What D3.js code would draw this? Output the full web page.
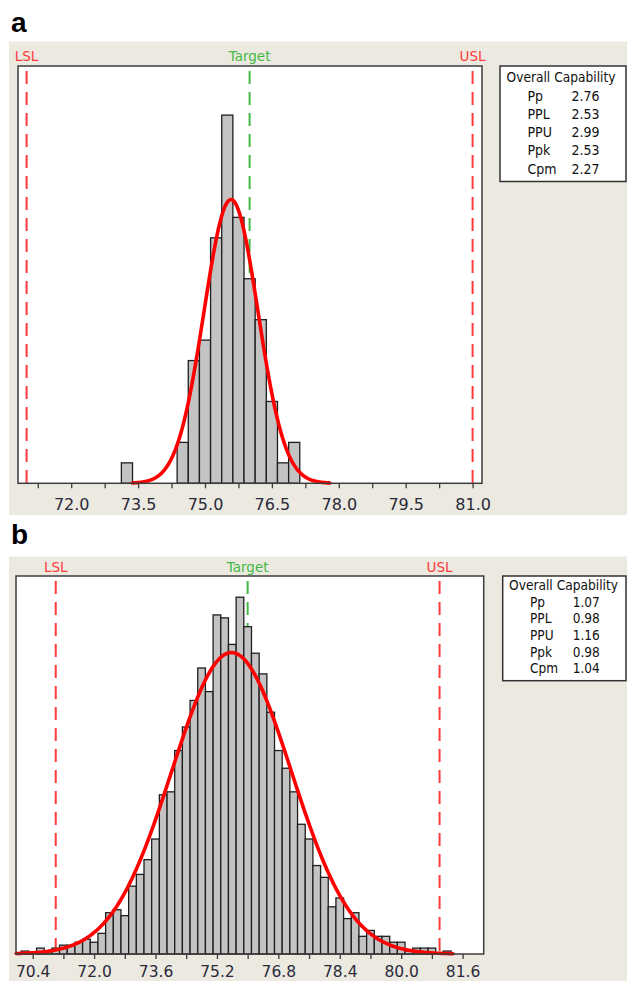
<!DOCTYPE html>
<html>
<head>
<meta charset="utf-8">
<script src="https://cdn.jsdelivr.net/npm/d3@7"></script>
<style>
  body { margin: 0; background: #fff; }
  svg { display: block; }
</style>
</head>
<body>
<svg id="chart" width="627" height="981"></svg>
<script>
// spec limits, same for both runs
const LSL = 71.0, TARGET = 76.0, USL = 81.0;
const statLabels = ['Pp', 'PPL', 'PPU', 'Ppk', 'Cpm'];

// ---- panel a ----
const binWidthA = 0.25;
const binCentersA = [73.25, 74.5, 74.75, 75.0, 75.25, 75.5, 75.75, 76.0, 76.25, 76.5, 76.75, 77.0];
const countsA = [1, 2, 6, 7, 12, 18, 13, 10, 8, 4, 1, 2];
const meanA = 75.583, sigmaA = 0.604;
const curveRangeA = [73.37, 77.8];
const statsA = ['2.76', '2.53', '2.99', '2.53', '2.27'];
const tickValuesA = [71.25, 72.0, 72.75, 73.5, 74.25, 75.0, 75.75, 76.5, 77.25, 78.0, 78.75, 79.5, 80.25, 81.0];
const tickLabelsA = ['72.0', '73.5', '75.0', '76.5', '78.0', '79.5', '81.0'];

// ---- panel b ----
const binWidthB = 0.2;
const binCentersB = [70.2, 70.4, 70.6, 70.8, 71.0, 71.2, 71.4, 71.6, 71.8, 72.0,
  72.2, 72.4, 72.6, 72.8, 73.0, 73.2, 73.4, 73.6, 73.8, 74.0,
  74.2, 74.4, 74.6, 74.8, 75.0, 75.2, 75.4, 75.6, 75.8, 76.0,
  76.2, 76.4, 76.6, 76.8, 77.0, 77.2, 77.4, 77.6, 77.8, 78.0,
  78.2, 78.4, 78.6, 78.8, 79.0, 79.2, 79.4, 79.6, 79.8, 80.0,
  80.2, 80.4, 80.6, 80.8, 81.0, 81.2];
const countsB = [1, 0, 2, 1, 2, 3, 3, 4, 5, 4,
  7, 14, 15, 13, 23, 27, 32, 39, 54, 55,
  69, 77, 86, 97, 89, 115, 114, 105, 121, 111,
  102, 95, 82, 69, 63, 55, 44, 39, 30, 26,
  16, 19, 12, 14, 6, 8, 6, 6, 4, 4,
  1, 2, 2, 2, 0, 1];
const meanB = 75.58, sigmaB = 1.5576;
const curveRangeB = [69.97, 81.35];
const statsB = ['1.07', '0.98', '1.16', '0.98', '1.04'];
const tickValuesB = [70.4, 71.2, 72.0, 72.8, 73.6, 74.4, 75.2, 76.0, 76.8, 77.6, 78.4, 79.2, 80.0, 80.8, 81.6];
const tickLabelsB = ['70.4', '72.0', '73.6', '75.2', '76.8', '78.4', '80.0', '81.6'];

const svg = d3.select('#chart');

const panels = [
  {
    letter: 'a', letterY: 31.5,
    bgTop: 41.5, bgBottom: 515,
    left: 18, right: 482, top: 66, bottom: 483.3,
    xDomain: [70.807, 81.211], yMax: 20.4,
    specLabelY: 60.5, tickPad: 10, tickFs: 16,
    centers: binCentersA, counts: countsA, binWidth: binWidthA,
    mean: meanA, sigma: sigmaA, curveRange: curveRangeA,
    ticks: tickValuesA, tickLabels: tickLabelsA, stats: statsA,
    legend: {x: 500, y: 66, w: 126, h: 115.5, titleX: 506.5, titleY: 82, rowY: 100.5, rowStep: 18.3, labelX: 527.5, valueX: 571.5, fs: 14}
  },
  {
    letter: 'b', letterY: 544,
    bgTop: 556.5, bgBottom: 981,
    left: 16, right: 483.7, top: 576, bottom: 954,
    xDomain: [69.965, 82.15], yMax: 128.2,
    specLabelY: 571.5, tickPad: 7, tickFs: 15.5,
    centers: binCentersB, counts: countsB, binWidth: binWidthB,
    mean: meanB, sigma: sigmaB, curveRange: curveRangeB,
    ticks: tickValuesB, tickLabels: tickLabelsB, stats: statsB,
    legend: {x: 502.7, y: 576, w: 123.3, h: 104.7, titleX: 509, titleY: 590, rowY: 606.5, rowStep: 16.7, labelX: 530, valueX: 572.7, fs: 13.5}
  }
];

panels.forEach(drawPanel);

function drawPanel(p) {
  const g = svg.append('g');

  // beige Minitab window background
  g.append('rect')
    .attr('x', 9).attr('y', p.bgTop)
    .attr('width', 627 - 9).attr('height', p.bgBottom - p.bgTop)
    .attr('fill', '#ece9e1');

  g.append('text')
    .attr('x', 11).attr('y', p.letterY)
    .attr('font-family', 'Liberation Sans, Arial, sans-serif')
    .attr('font-weight', 'bold').attr('font-size', 28)
    .attr('fill', '#000')
    .text(p.letter);

  const x = d3.scaleLinear().domain(p.xDomain).range([p.left, p.right]);
  const y = d3.scaleLinear().domain([0, p.yMax]).range([p.bottom, p.top]);

  // plot area
  g.append('rect')
    .attr('x', p.left).attr('y', p.top)
    .attr('width', p.right - p.left).attr('height', p.bottom - p.top)
    .attr('fill', '#fff');

  // spec lines
  const specs = [
    {v: LSL, label: 'LSL', color: '#ff3a3a'},
    {v: TARGET, label: 'Target', color: '#44b844'},
    {v: USL, label: 'USL', color: '#ff3a3a'}
  ];
  g.selectAll('.spec').data(specs).join('line')
    .attr('class', 'spec')
    .attr('x1', d => x(d.v)).attr('x2', d => x(d.v))
    .attr('y1', p.top + 5).attr('y2', p.bottom)
    .attr('stroke', d => d.color)
    .attr('stroke-width', 2)
    .attr('stroke-dasharray', '13,8');
  g.selectAll('.specLabel').data(specs).join('text')
    .attr('class', 'specLabel')
    .attr('x', d => x(d.v)).attr('y', p.specLabelY)
    .attr('text-anchor', 'middle')
    .attr('font-family', 'DejaVu Sans, Verdana, sans-serif')
    .attr('font-size', 13.5)
    .attr('fill', d => d.color)
    .text(d => d.label);

  // histogram bars
  const bins = p.centers.map((c, i) => ({c: c, n: p.counts[i]})).filter(d => d.n > 0);
  g.selectAll('.bar').data(bins).join('rect')
    .attr('class', 'bar')
    .attr('x', d => x(d.c - p.binWidth / 2))
    .attr('width', d => x(d.c + p.binWidth / 2) - x(d.c - p.binWidth / 2))
    .attr('y', d => y(d.n))
    .attr('height', d => y(0) - y(d.n))
    .attr('fill', '#c3c3c3')
    .attr('stroke', '#1e1e1e')
    .attr('stroke-width', 1.3);

  // fitted normal curve (expected counts per bin)
  const total = d3.sum(p.counts);
  const dens = v => total * p.binWidth / (p.sigma * Math.sqrt(2 * Math.PI)) *
    Math.exp(-0.5 * Math.pow((v - p.mean) / p.sigma, 2));
  const step = (p.curveRange[1] - p.curveRange[0]) / 200;
  const pts = d3.range(p.curveRange[0], p.curveRange[1] + step / 2, step);
  g.append('path')
    .datum(pts)
    .attr('d', d3.line().x(v => x(v)).y(v => y(dens(v))))
    .attr('fill', 'none')
    .attr('stroke', '#ff0000')
    .attr('stroke-width', 3.6)
    .attr('stroke-linejoin', 'round')
    .attr('stroke-linecap', 'round');

  // frame
  g.append('rect')
    .attr('x', p.left).attr('y', p.top)
    .attr('width', p.right - p.left).attr('height', p.bottom - p.top)
    .attr('fill', 'none')
    .attr('stroke', '#3c3c3c')
    .attr('stroke-width', 1.5);

  // x axis
  const axis = d3.axisBottom(x)
    .tickValues(p.ticks)
    .tickSize(5)
    .tickPadding(p.tickPad)
    .tickFormat(d => p.tickLabels.includes(d.toFixed(1)) ? d.toFixed(1) : '');
  const ax = g.append('g')
    .attr('transform', `translate(0,${p.bottom})`)
    .call(axis);
  ax.select('.domain').remove();
  ax.selectAll('line').attr('stroke', '#3c3c3c').attr('stroke-width', 1.3);
  ax.selectAll('text')
    .attr('font-family', 'DejaVu Sans, Verdana, sans-serif')
    .attr('font-size', p.tickFs)
    .attr('fill', '#2a2a3a');

  // capability box
  const L = p.legend;
  g.append('rect')
    .attr('x', L.x).attr('y', L.y)
    .attr('width', L.w).attr('height', L.h)
    .attr('fill', '#fff')
    .attr('stroke', '#333')
    .attr('stroke-width', 1.5);
  const font = 'DejaVu Sans Condensed, DejaVu Sans, sans-serif';
  g.append('text')
    .attr('x', L.titleX).attr('y', L.titleY)
    .attr('font-family', font).attr('font-size', L.fs)
    .attr('textLength', 109).attr('lengthAdjust', 'spacingAndGlyphs')
    .attr('fill', '#111')
    .text('Overall Capability');
  g.selectAll('.statLabel').data(statLabels).join('text')
    .attr('class', 'statLabel')
    .attr('x', L.labelX).attr('y', (d, i) => L.rowY + i * L.rowStep)
    .attr('font-family', font).attr('font-size', L.fs)
    .attr('fill', '#111')
    .text(d => d);
  g.selectAll('.statValue').data(p.stats).join('text')
    .attr('class', 'statValue')
    .attr('x', L.valueX).attr('y', (d, i) => L.rowY + i * L.rowStep)
    .attr('font-family', font).attr('font-size', L.fs)
    .attr('fill', '#111')
    .text(d => d);
}
</script>
</body>
</html>
